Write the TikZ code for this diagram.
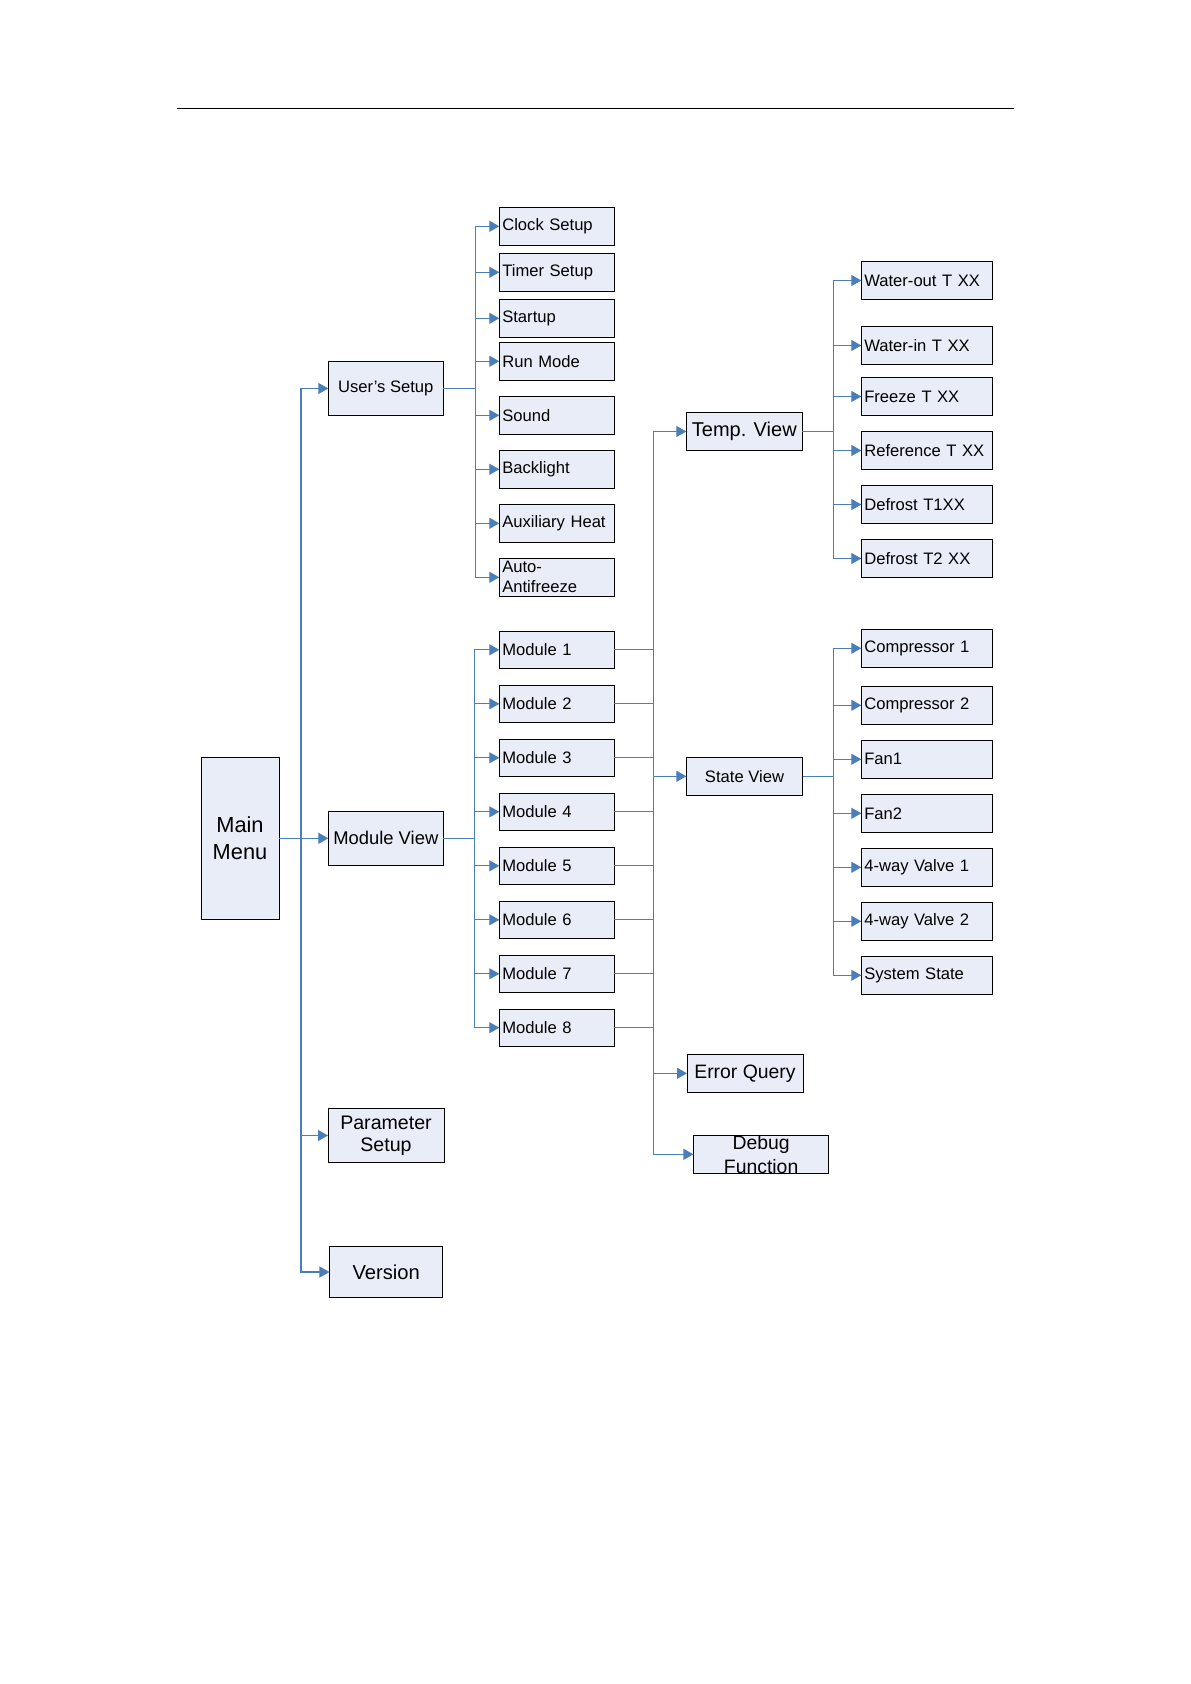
\documentclass[tikz,border=0pt]{standalone}
\usepackage{fontspec}
\setmainfont{Liberation Sans}
\usetikzlibrary{arrows.meta}
\definecolor{lnblue}{RGB}{74,126,187}
\definecolor{boxfill}{RGB}{233,237,247}
\tikzset{
  bx/.style={draw=black, fill=boxfill, line width=0.5pt, rectangle, inner sep=0pt, outer sep=0pt},
  smallf/.style={font=\fontsize{8.3}{10}\selectfont},
  leaf/.style={bx, smallf, minimum width=57.5pt, minimum height=19pt, text width=54.5pt, align=left, inner xsep=1.5pt},
  modbox/.style={leaf, minimum height=18.5pt},
  leafr/.style={bx, smallf, minimum width=65.5pt, minimum height=18.8pt, text width=62.5pt, align=left, inner xsep=1.5pt},
  conn/.style={draw=lnblue, line width=0.6pt},
  arr/.style={conn, -{Triangle[length=5pt,width=5.5pt]}},
}
\begin{document}
\begin{tikzpicture}[x=0.5pt,y=-0.5pt]
\useasboundingbox (0,0) rectangle (1190,1684);
\fill[white] (0,0) rectangle (1190,1684);
\draw[line width=0.7pt] (177,108.6) -- (1014,108.6);

% main menu
\node[bx, font=\fontsize{10.9}{13.3}\selectfont, align=center, minimum width=39pt, minimum height=81pt] (main) at (240,838.3) {Main\\Menu};

% level 1
\node[bx, smallf, minimum width=57.5pt, minimum height=26.8pt] (us) at (385.8,388.5) {User’s Setup};
\node[bx, font=\fontsize{9.2}{11}\selectfont, minimum width=57.5pt, minimum height=27pt] (mv) at (385.8,838.3) {Module View};
\node[bx, font=\fontsize{9.8}{10.8}\selectfont, align=center, minimum width=58pt, minimum height=27pt] (ps) at (386,1135.5) {Parameter\\Setup};
\node[bx, font=\fontsize{10.1}{12}\selectfont, minimum width=56.75pt, minimum height=25.75pt] (ver) at (386.2,1272) {Version};

% user's setup leaves
\node[leaf] (clock) at (556.8,226.3) {Clock Setup};
\node[leaf] (timer) at (556.8,272.3) {Timer Setup};
\node[leaf] (start) at (556.8,318.3) {Startup};
\node[leaf] (run)   at (556.8,361.3) {Run Mode};
\node[leaf] (sound) at (556.8,415.3) {Sound};
\node[leaf] (back)  at (556.8,469.3) {Backlight};
\node[leaf] (aux)   at (556.8,523.3) {Auxiliary Heat};
\node[leaf] (anti)  at (556.8,577.3) {Auto-\\Antifreeze};

% modules
\node[modbox] (m1) at (556.8,649.8) {Module 1};
\node[modbox] (m2) at (556.8,703.8) {Module 2};
\node[modbox] (m3) at (556.8,757.8) {Module 3};
\node[modbox] (m4) at (556.8,811.8) {Module 4};
\node[modbox] (m5) at (556.8,865.8) {Module 5};
\node[modbox] (m6) at (556.8,919.8) {Module 6};
\node[modbox] (m7) at (556.8,973.8) {Module 7};
\node[modbox] (m8) at (556.8,1027.7) {Module 8};

% level 3
\node[bx, font=\fontsize{10}{12}\selectfont, minimum width=58pt, minimum height=18.8pt] (tv) at (744.3,431.5) {Temp. View};
\node[bx, smallf, minimum width=58.2pt, minimum height=19pt] (sv) at (744.5,776.3) {State View};
\node[bx, font=\fontsize{9.7}{11}\selectfont, minimum width=58pt, minimum height=19pt] (eq) at (745,1073.3) {Error Query};
\node[bx, font=\fontsize{9.7}{12}\selectfont, align=center, minimum width=67.7pt, minimum height=19pt] (dbg) at (761.1,1154.3) {Debug\\Function};

% temp leaves
\node[leafr] (wout) at (926.8,280.5) {Water-out T XX};
\node[leafr] (win)  at (926.8,345.5) {Water-in T XX};
\node[leafr] (frz)  at (926.8,396.5) {Freeze T XX};
\node[leafr] (ref)  at (926.8,450.5) {Reference T XX};
\node[leafr] (df1)  at (926.8,504.5) {Defrost T1XX};
\node[leafr] (df2)  at (926.8,558.5) {Defrost T2 XX};

% state leaves
\node[leafr] (c1) at (926.8,648.3) {Compressor 1};
\node[leafr] (c2) at (926.8,705.3) {Compressor 2};
\node[leafr] (f1) at (926.8,759.3) {Fan1};
\node[leafr] (f2) at (926.8,813.3) {Fan2};
\node[leafr] (v1) at (926.8,867.3) {4-way Valve 1};
\node[leafr] (v2) at (926.8,921.3) {4-way Valve 2};
\node[leafr] (ss) at (926.8,975.3) {System State};

% trunk coordinates
\coordinate (lt) at (301,0);
\coordinate (ub) at (475.3,0);
\coordinate (mb) at (474.3,0);
\coordinate (rt) at (653.3,0);
\coordinate (tb) at (833.3,0);
\coordinate (sb) at (833.3,0);

% left trunk
\draw[arr] (main.east) -- (mv.west);
\draw[arr] (main.east -| lt) |- (us.west);
\draw[arr] (main.east -| lt) |- (ps.west);
\draw[arr] (main.east -| lt) |- (ver.west);

% user's setup bracket
\draw[conn] (us.east) -- (us.east -| ub);
\foreach \n in {clock,timer,start,run,sound,back,aux,anti}
  \draw[arr] (us.east -| ub) |- (\n.west);

% module bracket
\draw[conn] (mv.east) -- (mv.east -| mb);
\foreach \n in {m1,m2,m3,m4,m5,m6,m7,m8}
  \draw[arr] (mv.east -| mb) |- (\n.west);

% modules to right trunk
\foreach \n in {m1,m2,m3,m4,m5,m6,m7,m8}
  \draw[conn] (\n.east) -- (\n.east -| rt);
\draw[arr] (m1.east -| rt) |- (tv.west);
\draw[arr] (m1.east -| rt) |- (sv.west);
\draw[arr] (m1.east -| rt) |- (eq.west);
\draw[arr] (m1.east -| rt) |- (dbg.west);

% temp bracket
\draw[conn] (tv.east) -- (tv.east -| tb);
\foreach \n in {wout,win,frz,ref,df1,df2}
  \draw[arr] (tv.east -| tb) |- (\n.west);

% state bracket
\draw[conn] (sv.east) -- (sv.east -| sb);
\foreach \n in {c1,c2,f1,f2,v1,v2,ss}
  \draw[arr] (sv.east -| sb) |- (\n.west);
\end{tikzpicture}
\end{document}
